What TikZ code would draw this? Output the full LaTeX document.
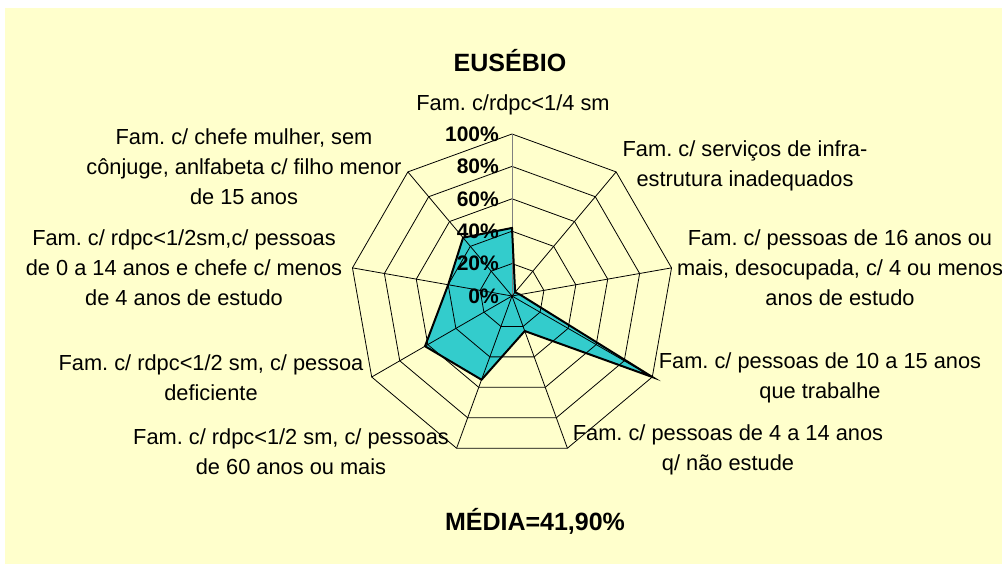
\documentclass[tikz,border=0pt]{standalone}
\usepackage{fontspec}
\setmainfont{Liberation Sans}
\frenchspacing
\definecolor{bgyellow}{HTML}{FFFFCC}
\definecolor{teal}{HTML}{33CCCC}
\tikzset{
  lbl/.style={align=center, inner sep=0pt, font=\fontsize{21.8}{29.8}\selectfont},
  tick/.style={anchor=east, inner sep=0pt, font=\fontsize{21}{24}\selectfont\bfseries},
  ttl/.style={inner sep=0pt, font=\fontsize{25}{28}\selectfont\bfseries},
  gridline/.style={line width=0.8pt, black},
  dataline/.style={line width=2pt, black, line join=miter},
}
\newcommand{\cx}{512}
\newcommand{\cy}{296}
\newcommand{\rr}{162}
\begin{document}
\begin{tikzpicture}[x=1pt,y=-1pt]
\useasboundingbox (0,0) rectangle (1002,564);
\fill[bgyellow] (5,8) rectangle (1002,564);
% center
\coordinate (C) at (\cx,\cy);
% data polygon fill
\def\vals{{42,3,5,100,23,55,62,40,47}}
\foreach \k in {0,...,8}{
  \pgfmathsetmacro{\v}{\vals[\k]/100}
  \coordinate (d\k) at ({\cx+\rr*\v*cos(90-40*\k)},{\cy-\rr*\v*sin(90-40*\k)});
}
\fill[teal] (d0)--(d1)--(d2)--(d3)--(d4)--(d5)--(d6)--(d7)--(d8)--cycle;
% grid rings
\foreach \s in {0.2,0.4,0.6,0.8,1.0}{
  \draw[gridline] ({\cx+\rr*\s*cos(90)},{\cy-\rr*\s*sin(90)})
    \foreach \k in {1,...,8}{ -- ({\cx+\rr*\s*cos(90-40*\k)},{\cy-\rr*\s*sin(90-40*\k)}) } -- cycle;
}
% spokes
\foreach \k in {1,...,8}{
  \coordinate (o\k) at ({\cx+\rr*cos(90-40*\k)},{\cy-\rr*sin(90-40*\k)});
  \draw[gridline] (C) -- (o\k);
}
\coordinate (o0) at (\cx,{\cy-\rr});
\draw[line width=1pt, gray] (C) -- (o0);
% data outline
\draw[dataline] (d0)--(d1)--(d2)--(d3)--(d4)--(d5)--(d6)--(d7)--(d8)--cycle;
\fill (C) circle (1.5);
% ticks
\foreach \t [count=\i from 0] in {0,20,40,60,80,100}{
  \node[tick] (t\i) at (499,{\cy-\rr*\i/5}) {\t\%};
}
% titles
\node[ttl] (title) at (510,61) {EUSÉBIO};
\node[ttl] (media) at (535,521) {MÉDIA=41,90\%};
% axis labels
\node[lbl] (l0) at (513,105) {Fam. c/rdpc<1/4 sm};
\node[lbl] (l1) at (745,166) {Fam. c/ serviços de infra-\\estrutura inadequados};
\node[lbl] (l2) at (840,267.5) {Fam. c/ pessoas de 16 anos ou\\mais, desocupada, c/ 4 ou menos\\anos de estudo};
\node[lbl] (l3) at (820,378) {Fam. c/ pessoas de 10 a 15 anos\\que trabalhe};
\node[lbl] (l4) at (728,450) {Fam. c/ pessoas de 4 a 14 anos\\q/ não estude};
\node[lbl] (l5) at (291,451.5) {Fam. c/ rdpc<1/2 sm, c/ pessoas\\de 60 anos ou mais};
\node[lbl] (l6) at (211,377.5) {Fam. c/ rdpc<1/2 sm, c/ pessoa\\deficiente};
\node[lbl] (l7) at (184,267.5) {Fam. c/ rdpc<1/2sm,c/ pessoas\\de 0 a 14 anos e chefe c/ menos\\de 4 anos de estudo};
\node[lbl] (l8) at (244,167) {Fam. c/ chefe mulher, sem\\cônjuge, anlfabeta c/ filho menor\\de 15 anos};
\end{tikzpicture}
\end{document}
